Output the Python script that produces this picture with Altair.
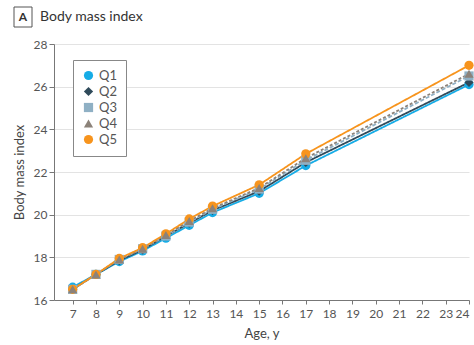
import altair as alt
import pandas as pd

ages = [7, 8, 9, 10, 11, 12, 13, 15, 17, 24]
q1 = [16.6, 17.2, 17.8, 18.3, 18.9, 19.5, 20.1, 21.0, 22.3, 26.1]
q2 = [16.5, 17.2, 17.85, 18.35, 19.0, 19.6, 20.2, 21.1, 22.45, 26.2]
q3 = [16.5, 17.2, 17.9, 18.4, 19.0, 19.65, 20.25, 21.2, 22.55, 26.5]
q4 = [16.5, 17.2, 17.9, 18.4, 19.05, 19.7, 20.3, 21.25, 22.65, 26.6]
q5 = [16.5, 17.2, 17.95, 18.45, 19.1, 19.8, 20.4, 21.4, 22.85, 27.0]

groups = ["Q1", "Q2", "Q3", "Q4", "Q5"]
colors = ["#16ACE6", "#2F4A5A", "#8FB0C4", "#8C8279", "#F7941D"]
shapes = ["circle", "diamond", "square", "triangle-up", "circle"]
dashes = [[1, 0], [1, 0], [4, 2], [3, 2], [1, 0]]
draw_order = [1, 2, 3, 5, 4]

rows = []
for g, o, vals in zip(groups, draw_order, [q1, q2, q3, q4, q5]):
    for a, v in zip(ages, vals):
        rows.append({"age": a, "bmi": v, "group": g, "ord": o})
df = pd.DataFrame(rows)

FONT = "Lato"

x = alt.X("age:Q", title="Age, y",
          scale=alt.Scale(domain=[6.2, 24], nice=False, zero=False),
          axis=alt.Axis(values=list(range(7, 25)), grid=False, tickSize=4,
                        labelFontSize=12, titleFontSize=13, titlePadding=8, labelPadding=4))
y = alt.Y("bmi:Q", title="Body mass index",
          scale=alt.Scale(domain=[16, 28], nice=False, zero=False),
          axis=alt.Axis(values=list(range(16, 29, 2)), grid=True, tickSize=5,
                        labelFontSize=12, titleFontSize=13, titlePadding=7))
leg = alt.Legend(title=None, orient="none", legendX=19, legendY=16,
                 strokeColor="#888", padding=9, labelFontSize=13,
                 symbolSize=85, rowPadding=2, labelColor="#555",
                 fillColor="white", symbolStrokeWidth=0)
color = alt.Color("group:N", scale=alt.Scale(domain=groups, range=colors), legend=leg)
shape = alt.Shape("group:N", scale=alt.Scale(domain=groups, range=shapes), legend=leg)

lines = alt.Chart(df).mark_line(strokeWidth=1.8).encode(
    x=x, y=y,
    color=color,
    strokeDash=alt.StrokeDash("group:N", scale=alt.Scale(domain=groups, range=dashes), legend=None),
    order=alt.Order("age:Q"),
)
points = alt.Chart(df).mark_point(filled=True, size=85, opacity=1).encode(
    x=x, y=y, color=color, shape=shape,
    order=alt.Order("ord:Q"),
)

box = alt.Chart(pd.DataFrame({"k": [0]})).mark_rect(fill="white", stroke="#555", strokeWidth=1).encode(
    x=alt.value(-40), x2=alt.value(-22), y=alt.value(-37), y2=alt.value(-17))
letter = alt.Chart(pd.DataFrame({"t": ["A"]})).mark_text(
    fontSize=12, fontWeight="bold", font=FONT, color="#333", baseline="middle", align="center").encode(
    x=alt.value(-31), y=alt.value(-27), text="t:N")
ttl = alt.Chart(pd.DataFrame({"t": ["Body mass index"]})).mark_text(
    fontSize=14, font=FONT, color="#333", baseline="middle", align="left").encode(
    x=alt.value(-14), y=alt.value(-27), text="t:N")

chart = alt.layer(lines, points, box, letter, ttl).properties(
    width=415, height=256,
    autosize=alt.AutoSizeParams(type="none"),
    padding={"left": 54, "top": 44, "right": 5, "bottom": 45},
).configure_axis(
    domainColor="#777", tickColor="#777", labelColor="#555", titleColor="#444",
    gridColor="#e3e3e3", labelFont=FONT, titleFont=FONT, titleFontWeight="normal",
).configure_legend(labelFont=FONT).configure_view(stroke=None)

chart.save("out.html", embed_options={"renderer": "svg", "actions": False})
